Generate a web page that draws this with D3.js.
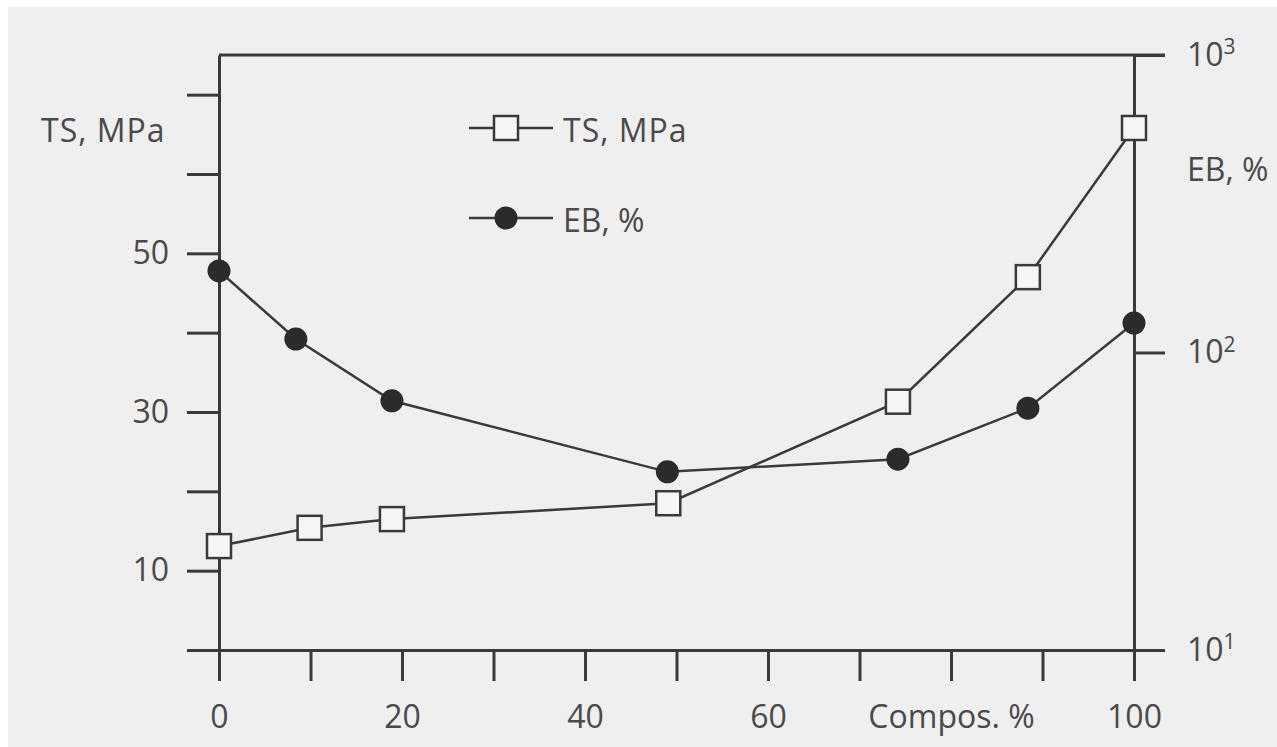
<!DOCTYPE html>
<meta charset="utf-8">
<style>
    body { margin: 0; background: #fff; }
    svg text { font-family: "Open Sans", sans-serif; fill: #4a4a4a; }
    .axis text { font-size: 32px; }
    .axis line, .axis path { stroke: #3a3a3a; stroke-width: 3px; }
</style>

<script src="https://d3js.org/d3.v7.min.js"></script>

<svg id="chart" width="1277" height="747"></svg>
<script>

// TS (tensile strength, MPa) against blend composition
var tsCompos = [0, 9.9, 18.9, 49.1, 74.2, 88.4, 100];
var tsValues = [13.1, 15.4, 16.5, 18.5, 31.3, 47.0, 65.8];

// EB (elongation at break, %), log scale
var ebCompos = [0, 8.4, 18.9, 49.0, 74.2, 88.4, 100];
var ebValues = [188, 111, 68.8, 39.7, 43.8, 65.0, 125.6];

// ticks and their labels
var xTicks = [0, 10, 20, 30, 40, 50, 60, 70, 80, 90, 100];
var xLabels = { 0: "0", 20: "20", 40: "40", 60: "60", 80: "Compos. %", 100: "100" };
var tsTicks = [0, 10, 20, 30, 40, 50, 60, 70];
var tsLabels = { 10: "10", 30: "30", 50: "50" };
var ebTicks = [10, 100, 1000];
var ebExp = { 10: "1", 100: "2", 1000: "3" };

var svg = d3.select("#chart");

// scanned page look: light grey paper, white strip on top/left
svg.append("rect")
    .attr("x", 8).attr("y", 7)
    .attr("width", 1277).attr("height", 747)
    .attr("fill", "#efefef");

var x = d3.scaleLinear().domain([0, 100]).range([219, 1134]);
var yTS = d3.scaleLinear().domain([0, 75]).range([650, 55]);
var yEB = d3.scaleLog().domain([10, 1000]).range([650, 55]);

// top frame line, runs on past the right axis like the 10^3 tick
svg.append("line")
    .attr("x1", x(0)).attr("x2", x(100) + 31)
    .attr("y1", yTS.range()[1]).attr("y2", yTS.range()[1])
    .attr("stroke", "#3a3a3a").attr("stroke-width", 3);

var gx = svg.append("g")
    .attr("class", "axis")
    .attr("transform", "translate(0," + yTS(0) + ")")
    .call(d3.axisBottom(x)
        .tickValues(xTicks)
        .tickSizeInner(31).tickSizeOuter(0)
        .tickPadding(24)
        .tickFormat(function(d) { return xLabels[d] || ""; }));

var gl = svg.append("g")
    .attr("class", "axis")
    .attr("transform", "translate(" + x(0) + ",0)")
    .call(d3.axisLeft(yTS)
        .tickValues(tsTicks)
        .tickSizeInner(32).tickSizeOuter(0)
        .tickPadding(18)
        .tickFormat(function(d) { return tsLabels[d] || ""; }));

var gr = svg.append("g")
    .attr("class", "axis")
    .attr("transform", "translate(" + x(100) + ",0)")
    .call(d3.axisRight(yEB)
        .tickValues(ebTicks)
        .tickSizeInner(31).tickSizeOuter(0)
        .tickPadding(22)
        .tickFormat(function() { return "10"; }));

gr.selectAll(".tick text")
    .append("tspan")
    .attr("dy", "-0.55em")
    .style("font-size", "21px")
    .text(function(d) { return ebExp[d]; });

[gx, gl, gr].forEach(function(g) {
    g.attr("font-family", null).attr("font-size", null);
});

// axis titles
svg.append("text")
    .attr("x", 41).attr("y", 142)
    .style("font-size", "32px")
    .style("letter-spacing", "1px")
    .text("TS, MPa");

svg.append("text")
    .attr("x", 1187).attr("y", 181)
    .style("font-size", "32px")
    .text("EB, %");

// series
var tsData = d3.zip(tsCompos, tsValues);
var ebData = d3.zip(ebCompos, ebValues);

svg.append("path")
    .datum(tsData)
    .attr("fill", "none")
    .attr("stroke", "#3a3a3a")
    .attr("stroke-width", 2.5)
    .attr("d", d3.line()
        .x(function(d) { return x(d[0]); })
        .y(function(d) { return yTS(d[1]); }));

svg.append("path")
    .datum(ebData)
    .attr("fill", "none")
    .attr("stroke", "#3a3a3a")
    .attr("stroke-width", 2.5)
    .attr("d", d3.line()
        .x(function(d) { return x(d[0]); })
        .y(function(d) { return yEB(d[1]); }));

var sq = 24;
svg.selectAll(".ts")
    .data(tsData)
    .enter().append("rect")
        .attr("class", "ts")
        .attr("x", function(d) { return x(d[0]) - sq / 2; })
        .attr("y", function(d) { return yTS(d[1]) - sq / 2; })
        .attr("width", sq).attr("height", sq)
        .attr("fill", "#f6f6f6")
        .attr("stroke", "#3a3a3a")
        .attr("stroke-width", 2.5);

svg.selectAll(".eb")
    .data(ebData)
    .enter().append("circle")
        .attr("class", "eb")
        .attr("cx", function(d) { return x(d[0]); })
        .attr("cy", function(d) { return yEB(d[1]); })
        .attr("r", 11.5)
        .attr("fill", "#2b2b2b");

// legend
var legend = svg.append("g");

legend.append("line")
    .attr("x1", 469).attr("x2", 553)
    .attr("y1", 128).attr("y2", 128)
    .attr("stroke", "#3a3a3a").attr("stroke-width", 2.5);
legend.append("rect")
    .attr("x", 506 - sq / 2).attr("y", 128 - sq / 2)
    .attr("width", sq).attr("height", sq)
    .attr("fill", "#f6f6f6")
    .attr("stroke", "#3a3a3a").attr("stroke-width", 2.5);
legend.append("text")
    .attr("x", 563).attr("y", 142)
    .style("font-size", "32px")
    .style("letter-spacing", "1px")
    .text("TS, MPa");

legend.append("line")
    .attr("x1", 469).attr("x2", 553)
    .attr("y1", 218).attr("y2", 218)
    .attr("stroke", "#3a3a3a").attr("stroke-width", 2.5);
legend.append("circle")
    .attr("cx", 506).attr("cy", 218)
    .attr("r", 11.5)
    .attr("fill", "#2b2b2b");
legend.append("text")
    .attr("x", 563).attr("y", 232)
    .style("font-size", "32px")
    .text("EB, %");

</script>
